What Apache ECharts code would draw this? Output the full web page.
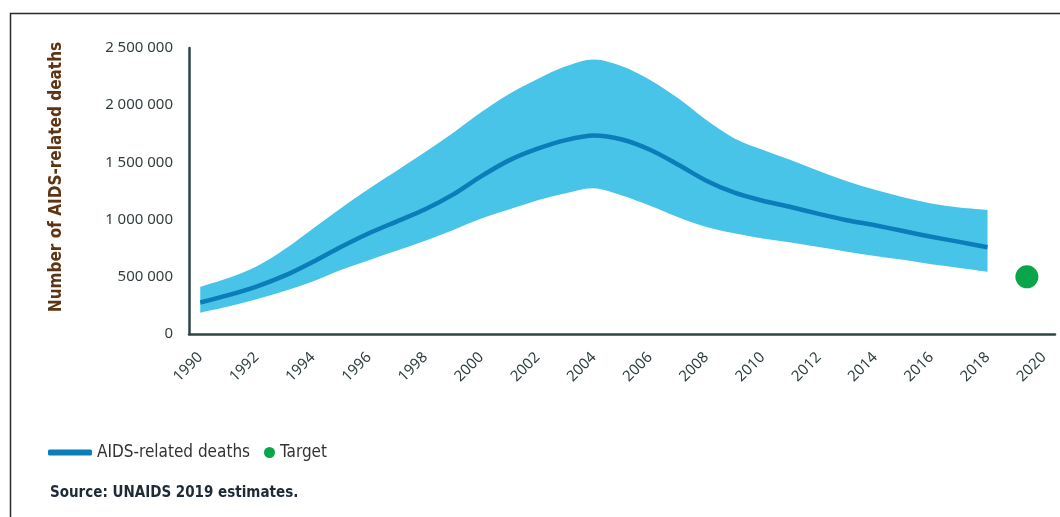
<!DOCTYPE html>
<html>
<head>
<meta charset="utf-8">
<script src="https://cdn.jsdelivr.net/npm/echarts@6/dist/echarts.min.js"></script>
<style>
html,body{margin:0;padding:0;background:#fff;}
#chart{width:1060px;height:517px;}
</style>
</head>
<body>
<div id="chart"></div>
<script>
// ---- data ----
var years = [1990,1991,1992,1993,1994,1995,1996,1997,1998,1999,2000,2001,2002,2003,2004,2005,2006,2007,2008,2009,2010,2011,2012,2013,2014,2015,2016,2017,2018];
var deaths = [275000,340000,415000,510000,630000,760000,880000,985000,1090000,1220000,1380000,1520000,1620000,1695000,1735000,1700000,1610000,1480000,1340000,1235000,1165000,1110000,1050000,995000,950000,900000,850000,805000,758000];
var upperBound = [413000,490000,590000,740000,920000,1100000,1270000,1430000,1590000,1760000,1940000,2100000,2230000,2340000,2400000,2340000,2220000,2060000,1870000,1710000,1610000,1520000,1425000,1335000,1260000,1195000,1140000,1105000,1084000];
var lowerBound = [186000,240000,303000,375000,460000,560000,645000,730000,815000,910000,1010000,1090000,1170000,1230000,1273000,1210000,1120000,1020000,935000,880000,835000,800000,760000,720000,682000,648000,610000,578000,545000];
var targetYear = [2019.4];
var targetValue = [500000];
var xTickLabels = [1990,1992,1994,1996,1998,2000,2002,2004,2006,2008,2010,2012,2014,2016,2018,2020];
var yTicks = [0,500000,1000000,1500000,2000000,2500000];

var FONT = "'Noto Sans', 'Open Sans', sans-serif";
var NARROW = "'Liberation Sans Narrow', 'DejaVu Sans Condensed', sans-serif";

function pairs(xs, ys){ return xs.map(function(x,i){ return [x, ys[i]]; }); }

// Catmull-Rom smoothing of pixel points into cubic bezier segments
function smoothSegs(pts){
  var s = '';
  var k = 1/6;
  for (var i = 0; i < pts.length - 1; i++) {
    var p0 = pts[i-1] || pts[i], p1 = pts[i], p2 = pts[i+1], p3 = pts[i+2] || pts[i+1];
    var c1x = p1[0] + (p2[0]-p0[0])*k, c1y = p1[1] + (p2[1]-p0[1])*k;
    var c2x = p2[0] - (p3[0]-p1[0])*k, c2y = p2[1] - (p3[1]-p1[1])*k;
    s += ' C' + c1x + ' ' + c1y + ' ' + c2x + ' ' + c2y + ' ' + p2[0] + ' ' + p2[1];
  }
  return s;
}

var chart = echarts.init(document.getElementById('chart'), null, {renderer:'canvas'});
var option = {
  animation: false,
  backgroundColor: '#ffffff',
  grid: {left: 189, right: 5, top: 48, bottom: 183},
  xAxis: {
    type: 'value',
    min: 1989.6,
    max: 2020.4,
    splitLine: {show: false},
    axisTick: {show: false},
    axisLine: {show: true, onZero: false, lineStyle: {color: '#2e4544', width: 2.5}},
    axisLabel: {
      customValues: xTickLabels,
      rotate: 45,
      margin: 21,
      color: '#2f3f3f',
      fontFamily: FONT,
      fontSize: 15,
      formatter: function(v){ return String(v); }
    }
  },
  yAxis: {
    type: 'value',
    min: yTicks[0],
    max: yTicks[yTicks.length-1],
    interval: yTicks[1]-yTicks[0],
    splitLine: {show: false},
    axisTick: {show: false},
    axisLine: {show: true, lineStyle: {color: '#2e4544', width: 2.5}},
    axisLabel: {
      margin: 16,
      color: '#333f3f',
      fontFamily: FONT,
      fontSize: 15,
      formatter: function(v){ return String(v).replace(/\B(?=(\d{3})+(?!\d))/g, ' '); }
    }
  },
  legend: [
    {
      left: 43, top: 439, padding: 5,
      data: [{name: 'AIDS-related deaths', icon: 'roundRect'}],
      itemWidth: 44, itemHeight: 6,
      textStyle: {color: '#333333', fontFamily: NARROW, fontSize: 17},
      selectedMode: false
    },
    {
      left: 259, top: 439, padding: 5,
      data: [{name: 'Target', icon: 'circle'}],
      itemWidth: 11, itemHeight: 11,
      textStyle: {color: '#333333', fontFamily: NARROW, fontSize: 17},
      selectedMode: false
    }
  ],
  graphic: [
    {
      type: 'rect', left: 8, top: 11, silent: true,
      shape: {width: 1100, height: 600},
      style: {fill: 'none', stroke: '#2b2b2b', lineWidth: 1.5}
    },
    {
      type: 'text', x: 57, y: 177, rotation: Math.PI/2, silent: true,
      style: {text: 'Number of AIDS-related deaths', fill: '#5e3414', font: 'bold 17px ' + NARROW, align: 'center', verticalAlign: 'middle'}
    },
    {
      type: 'text', left: 50, top: 486, silent: true,
      style: {text: 'Source: UNAIDS 2019 estimates.', fill: '#1e2a36', font: 'bold 15px ' + NARROW}
    }
  ],
  series: [
    {
      name: 'band', type: 'custom', coordinateSystem: 'cartesian2d', silent: true,
      data: [[years[0], upperBound[0]]],
      renderItem: function(params, api){
        if (params.dataIndex !== 0) return;
        var up = years.map(function(y,i){ return api.coord([y, upperBound[i]]); });
        var lo = years.map(function(y,i){ return api.coord([y, lowerBound[i]]); }).reverse();
        var d = 'M' + up[0][0] + ' ' + up[0][1] + smoothSegs(up) +
                ' L' + lo[0][0] + ' ' + lo[0][1] + smoothSegs(lo) + ' Z';
        return {type: 'path', shape: {pathData: d}, style: {fill: '#48c4e8'}};
      },
      z: 1
    },
    {
      name: 'AIDS-related deaths', type: 'line', data: pairs(years, deaths),
      symbol: 'none', smooth: 0.3,
      color: '#0b7db8',
      lineStyle: {color: '#0b7db8', width: 4.5}, z: 3
    },
    {
      name: 'Target', type: 'scatter', data: pairs(targetYear, targetValue),
      symbol: 'circle', symbolSize: 23,
      itemStyle: {color: '#0aa44b', opacity: 1}, z: 4
    }
  ]
};
chart.setOption(option);
</script>
</body>
</html>
